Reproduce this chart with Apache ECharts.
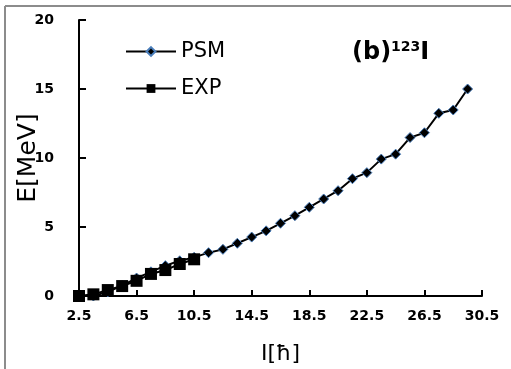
<!DOCTYPE html>
<html>
<head>
<meta charset="utf-8">
<script src="https://cdn.jsdelivr.net/npm/echarts@6/dist/echarts.min.js"></script>
<style>
html,body{margin:0;padding:0;background:#fff;}
#chart{width:511px;height:369px;}
</style>
</head>
<body>
<div id="chart"></div>
<script>
var spinValues = ['2.5','3.5','4.5','5.5','6.5','7.5','8.5','9.5','10.5','11.5','12.5','13.5','14.5','15.5','16.5','17.5','18.5','19.5','20.5','21.5','22.5','23.5','24.5','25.5','26.5','27.5','28.5','29.5','30.5'];
var psmEnergy = [0, 0.0, 0.3, 0.75, 1.3, 1.75, 2.2, 2.55, 2.8, 3.14, 3.38, 3.82, 4.27, 4.72, 5.27, 5.82, 6.43, 7.03, 7.63, 8.5, 8.94, 9.92, 10.28, 11.48, 11.83, 13.24, 13.48, 15.0];
var expEnergy = [0, 0.12, 0.43, 0.72, 1.1, 1.6, 1.88, 2.32, 2.66];
var yTicks = { min: 0, max: 20, interval: 5 };

var chart = echarts.init(document.getElementById('chart'), null, {renderer: 'canvas'});
var FONT = 'DejaVu Sans';
chart.setOption({
  animation: false,
  backgroundColor: '#ffffff',
  grid: { left: 79, top: 20, width: 403, height: 276, containLabel: false, outerBoundsMode: 'none' },
  title: {
    text: '{b|(b)}{s|123}{b|I}',
    left: 347, top: 34,
    textStyle: {
      rich: {
        b: { fontFamily: FONT, fontWeight: 'bold', fontSize: 24, color: '#000', lineHeight: 28 },
        s: { fontFamily: FONT, fontWeight: 'bold', fontSize: 14, color: '#000', lineHeight: 28, padding: [0, 0, 12, 0] }
      }
    }
  },
  legend: {
    orient: 'vertical',
    left: 120, top: 36,
    itemWidth: 50, itemHeight: 11,
    itemGap: 16,
    data: ['PSM', 'EXP'],
    textStyle: { fontFamily: FONT, fontSize: 21, color: '#000', padding: [0, 0, 0, 0] }
  },
  xAxis: {
    type: 'category',
    data: spinValues,
    boundaryGap: false,
    name: 'I[ħ]',
    nameLocation: 'middle',
    nameGap: 47,
    nameMoveOverlap: false,
    nameTextStyle: { fontFamily: FONT, fontSize: 22, color: '#000' },
    axisLine: { lineStyle: { color: '#000', width: 2 } },
    axisTick: { inside: true, length: 6, interval: 3, lineStyle: { color: '#000', width: 2 } },
    axisLabel: { interval: 3, margin: 13, fontFamily: FONT, fontWeight: 'bold', fontSize: 14, color: '#000' },
    splitLine: { show: false }
  },
  yAxis: {
    type: 'value',
    min: yTicks.min, max: yTicks.max, interval: yTicks.interval,
    name: 'E[MeV]',
    nameLocation: 'middle',
    nameGap: 38,
    nameRotate: 90,
    nameMoveOverlap: false,
    nameTextStyle: { fontFamily: FONT, fontSize: 25, color: '#000' },
    axisLine: { show: true, lineStyle: { color: '#000', width: 2 } },
    axisTick: { show: true, inside: true, length: 7, lineStyle: { color: '#000', width: 2 } },
    axisLabel: { margin: 25, fontFamily: FONT, fontWeight: 'bold', fontSize: 14, color: '#000' },
    splitLine: { show: false }
  },
  graphic: [
    { type: 'line', shape: { x1: 5, y1: 6, x2: 511, y2: 6 }, style: { stroke: '#8c8c8c', lineWidth: 2 } },
    { type: 'line', shape: { x1: 5, y1: 6, x2: 5, y2: 369 }, style: { stroke: '#8c8c8c', lineWidth: 2 } }
  ],
  series: [
    {
      name: 'PSM', type: 'line', data: psmEnergy,
      symbol: 'diamond', symbolSize: 10, showAllSymbol: true,
      lineStyle: { color: '#000', width: 2 },
      itemStyle: { color: '#000', borderColor: '#4a7ebb', borderWidth: 1 }
    },
    {
      name: 'EXP', type: 'line', data: expEnergy,
      symbol: 'rect', symbolSize: 12, showAllSymbol: true,
      lineStyle: { color: '#000', width: 2 },
      itemStyle: { color: '#000' }
    }
  ]
});
</script>
</body>
</html>
